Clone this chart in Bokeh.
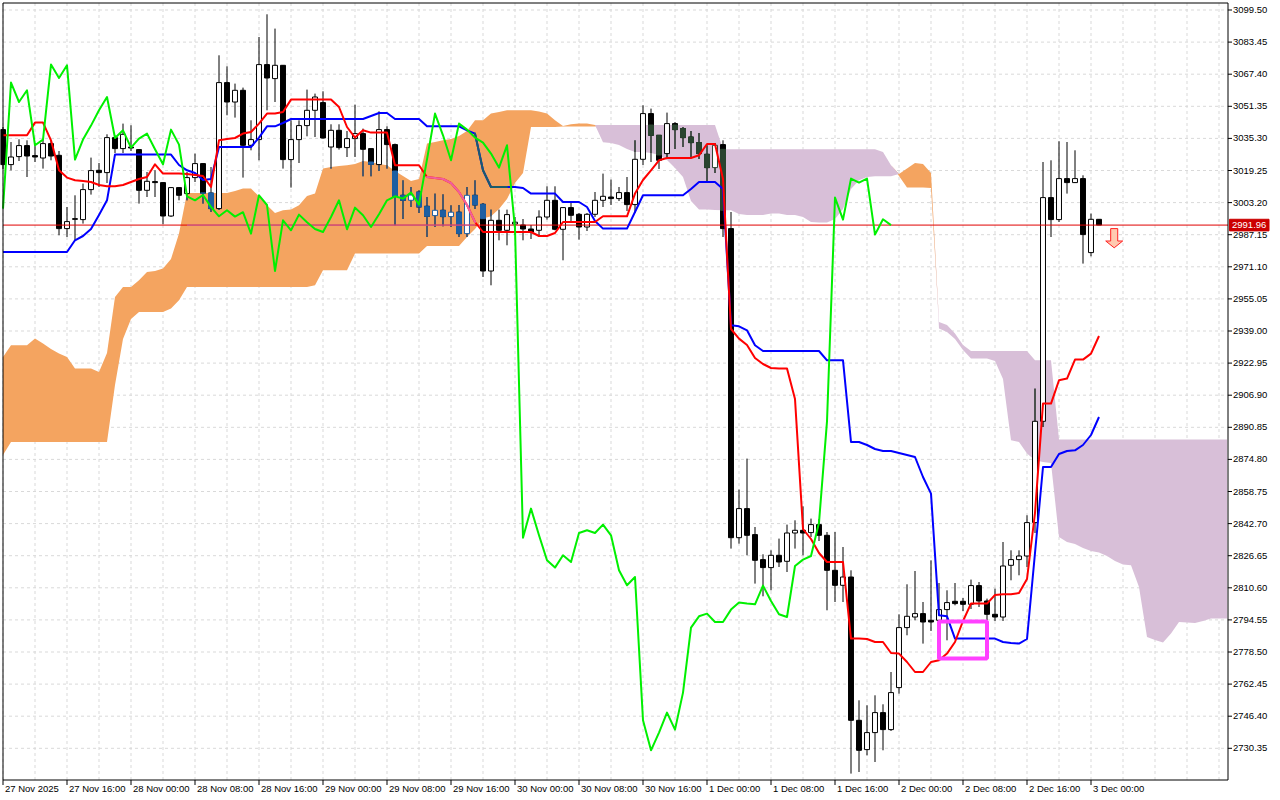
import numpy as np
from bokeh.plotting import figure
from bokeh.models import Range1d
from bokeh.embed import file_html
from bokeh.resources import INLINE
from bokeh.core.properties import value

FONT = "Liberation Sans"

# ---------------- data (H1 bars, bar 0 = 27 Nov 2025 08:00) ----------------
open_ = [3039.7, 3022.2, 3026.2, 3031.7, 3026.7, 3025.5, 3032.7, 3026.85, 2990.2, 2994.8,
         2994.7, 3009.7, 3019.35, 3018.2, 3035.7, 3030.2, 3031.0, 3029.7, 3009.35, 3013.7,
         3013.2, 2996.5, 3010.7, 3007.7, 3015.7, 3022.7, 3008.0, 3000.2, 3063.2, 3053.5,
         3059.35, 3031.85, 3034.7, 3072.2, 3065.2, 3071.85, 3024.7, 3034.7, 3041.7, 3049.35,
         3053.2, 3031.0, 3039.35, 3030.7, 3035.2, 3037.7, 3030.2, 3022.2, 3039.7, 3032.2,
         3006.85, 3004.35, 3008.5, 3001.35, 2996.7, 2999.35, 2996.2, 2998.4, 2987.7, 3006.85,
         3002.35, 2969.0, 2994.35, 2989.35, 2992.5, 2992.0, 2990.0, 2989.35, 2996.0, 3004.35,
         2989.85, 3000.7, 2997.35, 2991.0, 2997.35, 3004.35, 3006.0, 3005.2, 3008.2, 3002.2,
         3024.85, 3047.7, 3036.85, 3027.7, 3042.7, 3040.2, 3036.0, 3033.2, 3027.35, 3020.7,
         3032.2, 2990.2, 2835.65, 2850.2, 2837.2, 2824.7, 2820.7, 2826.85, 2823.85, 2838.0,
         2839.35, 2838.2, 2842.2, 2836.85, 2819.35, 2811.85, 2816.0, 2744.35, 2729.7, 2738.2,
         2748.2, 2739.7, 2760.7, 2790.7, 2796.0, 2797.7, 2794.35, 2794.35, 2799.7, 2803.85,
         2803.85, 2802.35, 2811.7, 2804.0, 2797.35, 2796.0, 2821.85, 2824.7, 2826.5, 2843.2,
         2893.85, 3005.7, 2994.7, 3015.2, 3013.2, 3015.2, 2978.2, 2994.85]
high = [3041.0, 3033.5, 3034.85, 3034.35, 3032.7, 3035.2, 3034.4, 3029.0, 3001.0, 3006.85,
        3012.7, 3025.7, 3023.0, 3037.35, 3036.85, 3042.7, 3041.85, 3030.0, 3018.5, 3019.35,
        3013.5, 3011.0, 3011.0, 3018.5, 3027.7, 3023.0, 3021.0, 3076.85, 3071.35, 3062.7,
        3060.7, 3044.35, 3086.0, 3097.35, 3090.2, 3072.0, 3044.35, 3044.35, 3059.7, 3057.7,
        3058.85, 3042.35, 3042.35, 3039.0, 3052.2, 3040.2, 3030.2, 3048.85, 3041.35, 3032.7,
        3014.35, 3011.0, 3009.35, 3006.0, 3007.7, 3007.35, 3001.85, 3002.0, 3011.0, 3014.35,
        3003.0, 2999.7, 2999.7, 2999.7, 2996.0, 2995.0, 2992.0, 2999.35, 3011.35, 3011.35,
        3001.0, 3003.5, 2998.0, 2998.0, 3008.5, 3017.7, 3014.7, 3011.0, 3016.0, 3034.35,
        3051.85, 3050.2, 3037.0, 3048.2, 3043.5, 3041.0, 3039.0, 3038.0, 3031.85, 3033.0,
        3034.35, 2998.5, 2859.7, 2875.2, 2841.0, 2827.35, 2829.35, 2835.2, 2842.2, 2844.35,
        2851.35, 2845.2, 2845.0, 2838.5, 2838.5, 2831.0, 2819.35, 2754.35, 2751.85, 2756.85,
        2752.35, 2768.5, 2797.35, 2812.35, 2819.0, 2803.5, 2824.35, 2813.0, 2809.35, 2813.0,
        2805.5, 2814.7, 2813.5, 2805.2, 2810.2, 2833.5, 2829.35, 2829.35, 2846.85, 2910.2,
        3023.5, 3024.35, 3033.85, 3033.5, 3029.35, 3016.85, 2997.7, 2995.0]
low = [3020.0, 3019.3, 3024.0, 3016.0, 3023.5, 3020.2, 3024.35, 2986.85, 2986.0, 2984.35,
       2992.7, 3007.2, 3011.0, 3013.0, 3028.0, 3028.0, 3029.0, 3002.7, 3006.0, 3006.0,
       2992.35, 2996.0, 3004.35, 3004.35, 3013.5, 3002.7, 2998.5, 2999.5, 3046.85, 3045.7,
       3015.7, 3029.35, 3024.35, 3049.35, 3053.5, 3020.2, 3010.7, 3023.0, 3036.35, 3036.0,
       3035.2, 3020.2, 3029.7, 3026.0, 3026.0, 3016.35, 3016.35, 3019.0, 3020.2, 2991.85,
       2995.0, 3001.0, 2998.0, 2986.0, 2991.0, 2991.35, 2991.0, 2986.0, 2986.0, 3000.0,
       2966.0, 2961.85, 2984.35, 2981.85, 2987.0, 2984.35, 2985.0, 2986.0, 2994.7, 2989.35,
       2974.35, 2994.0, 2984.7, 2989.0, 2996.0, 3001.0, 3002.0, 3004.0, 2999.0, 2998.0,
       3022.0, 3023.5, 3020.0, 3025.0, 3030.0, 3031.0, 3026.0, 3025.0, 3013.5, 3018.0,
       2986.0, 2830.2, 2832.7, 2826.85, 2812.7, 2806.35, 2809.35, 2821.0, 2818.5, 2830.2,
       2826.85, 2836.0, 2834.0, 2799.35, 2803.5, 2803.5, 2717.7, 2718.5, 2726.85, 2723.5,
       2729.35, 2739.0, 2757.7, 2786.85, 2794.35, 2782.7, 2789.0, 2788.0, 2784.35, 2801.85,
       2799.0, 2800.0, 2801.0, 2794.35, 2794.0, 2794.0, 2814.35, 2816.85, 2821.0, 2838.0,
       2891.0, 2986.0, 2993.5, 3007.7, 3013.0, 2972.7, 2976.35, 2991.96]
close = [3022.2, 3026.0, 3031.7, 3026.5, 3026.0, 3032.7, 3026.5, 2990.2, 2993.7, 2995.2,
         3009.7, 3019.2, 3018.2, 3035.7, 3030.2, 3037.35, 3030.5, 3009.35, 3013.85, 3013.2,
         2996.5, 3010.7, 3006.85, 3015.7, 3022.7, 3007.9, 3000.2, 3063.2, 3053.5, 3059.35,
         3031.85, 3034.7, 3072.2, 3065.5, 3071.85, 3024.7, 3034.7, 3041.7, 3049.35, 3056.0,
         3035.5, 3039.35, 3030.7, 3035.2, 3037.7, 3029.85, 3022.35, 3039.7, 3032.2, 3006.35,
         3004.35, 3007.0, 3001.0, 2996.35, 2999.35, 2996.2, 2998.4, 2987.7, 3006.85, 3002.0,
         2969.0, 2994.35, 2989.35, 2997.2, 2993.4, 2990.0, 2988.5, 2996.0, 3004.35, 2989.85,
         3000.7, 2996.85, 2991.0, 2997.35, 3004.35, 3006.35, 3005.2, 3008.2, 3002.2, 3024.85,
         3047.7, 3036.85, 3024.35, 3042.7, 3039.7, 3035.7, 3033.2, 3027.7, 3020.7, 3031.85,
         2990.2, 2835.65, 2850.2, 2836.85, 2824.35, 2820.7, 2826.85, 2823.5, 2838.0, 2839.35,
         2838.0, 2842.2, 2836.85, 2819.35, 2811.85, 2816.0, 2744.35, 2729.35, 2738.2, 2748.2,
         2739.7, 2758.2, 2790.7, 2796.35, 2797.7, 2793.5, 2793.5, 2799.7, 2803.2, 2802.7,
         2802.35, 2811.7, 2804.0, 2797.35, 2796.0, 2821.5, 2824.7, 2826.5, 2843.2, 2893.85,
         3005.7, 2994.7, 3015.2, 3013.2, 3015.2, 2987.2, 2994.85, 2991.96]

tenkan = [3036.85, 3036.85, 3036.85, 3036.85, 3043.2, 3043.2, 3034.35, 3019.35, 3015.7, 3014.35,
          3014.0, 3013.5, 3012.0, 3011.35, 3011.35, 3012.0, 3013.5, 3015.0, 3016.0, 3022.35,
          3017.7, 3017.7, 3017.7, 3017.5, 3017.0, 3016.5, 3011.0, 3034.35, 3035.0, 3035.5,
          3037.7, 3038.5, 3042.7, 3047.7, 3047.7, 3048.5, 3054.7, 3054.7, 3054.7, 3054.7,
          3054.7, 3054.7, 3051.0, 3041.0, 3035.7, 3039.35, 3038.2, 3038.2, 3038.2, 3021.85,
          3021.85, 3021.85, 3021.85, 3016.0, 3015.5, 3015.0, 3013.0, 3008.5, 3002.0, 2993.5,
          2988.5, 2988.5, 2988.5, 2988.5, 2988.5, 2988.5, 2988.5, 2986.5, 2986.5, 2988.0,
          2993.5, 2993.5, 2993.5, 2993.5, 2993.5, 2996.35, 2996.35, 2996.35, 2996.35, 3007.7,
          3014.5, 3019.35, 3024.35, 3025.5, 3025.5, 3025.5, 3025.5, 3026.85, 3032.5, 3032.5,
          3015.0, 2940.0, 2935.2, 2932.0, 2925.5, 2922.5, 2920.5, 2920.2, 2920.2, 2905.0,
          2840.0, 2835.0, 2828.0, 2823.5, 2823.5, 2823.5, 2785.2, 2785.2, 2785.0, 2783.5,
          2783.5, 2778.0, 2777.7, 2773.5, 2768.5, 2768.5, 2773.5, 2774.35, 2777.7, 2783.5,
          2794.0, 2802.7, 2802.7, 2802.7, 2807.0, 2807.35, 2807.35, 2808.0, 2815.0, 2848.0,
          2902.7, 2902.7, 2914.35, 2915.2, 2924.7, 2924.7, 2927.7, 2936.5]
kijun = [2978.5, 2978.5, 2978.5, 2978.5, 2978.5, 2978.5, 2978.5, 2978.5, 2978.5, 2984.35,
         2986.5, 2990.0, 2997.0, 3004.35, 3027.2, 3027.2, 3027.2, 3027.2, 3027.2, 3027.2,
         3027.2, 3027.2, 3022.0, 3019.35, 3018.0, 3014.5, 3015.0, 3031.0, 3031.0, 3031.0,
         3031.0, 3031.0, 3035.7, 3041.35, 3041.35, 3043.0, 3045.0, 3045.0, 3045.0, 3045.0,
         3045.0, 3045.0, 3045.0, 3045.0, 3045.0, 3045.0, 3046.5, 3048.0, 3048.0, 3045.0,
         3045.0, 3045.0, 3045.0, 3041.35, 3041.35, 3041.35, 3041.35, 3041.35, 3039.35, 3037.7,
         3019.35, 3011.0, 3011.0, 3011.0, 3011.0, 3010.5, 3007.7, 3007.7, 3007.7, 3007.7,
         3003.5, 3003.5, 3003.5, 3001.0, 2994.0, 2990.2, 2990.2, 2990.2, 2990.2, 2998.5,
         3006.85, 3006.85, 3006.85, 3006.85, 3006.85, 3006.85, 3010.0, 3013.5, 3013.5, 3013.5,
         3010.0, 2941.85, 2941.35, 2939.35, 2931.85, 2929.0, 2929.0, 2929.0, 2929.0, 2929.0,
         2929.0, 2929.0, 2929.0, 2924.35, 2924.35, 2924.35, 2883.5, 2883.5, 2882.0, 2880.0,
         2879.0, 2879.0, 2878.0, 2877.0, 2876.0, 2866.0, 2857.7, 2796.85, 2796.35, 2785.2,
         2785.2, 2785.2, 2785.2, 2785.2, 2785.2, 2783.5, 2783.0, 2782.7, 2785.0, 2828.0,
         2871.0, 2871.0, 2877.5, 2879.0, 2879.35, 2882.0, 2887.0, 2896.0]

# Senkou spans as drawn (already shifted 26 bars forward), bars 0..153
span_a = [2926.0, 2931.85, 2931.85, 2931.85, 2935.2, 2932.7, 2930.0, 2927.7, 2926.0, 2920.2,
          2920.2, 2920.2, 2918.5, 2928.0, 2956.0, 2961.0, 2961.0, 2964.35, 2968.5, 2969.0,
          2970.2, 2975.0, 2987.7, 3008.0, 3008.0, 3008.0, 3008.0, 3008.0, 3008.0, 3009.0,
          3010.2, 3010.2, 3006.35, 3001.85, 2998.0, 2999.35, 2999.7, 3001.85, 3006.5, 3007.7,
          3020.2, 3021.0, 3021.5, 3021.85, 3022.5, 3024.0, 3023.5, 3022.5, 3021.85, 3019.0,
          3016.5, 3014.0, 3015.0, 3032.7, 3033.5, 3034.35, 3035.0, 3036.5, 3039.0, 3044.35,
          3044.35, 3047.7, 3048.5, 3049.35, 3049.35, 3049.35, 3049.35, 3048.7, 3047.7, 3044.35,
          3041.5, 3042.35, 3042.7, 3042.7, 3042.0, 3033.4, 3033.0, 3032.0, 3030.0, 3028.5,
          3028.5, 3028.0, 3027.0, 3024.5, 3020.5, 3016.0, 3004.0, 2999.7, 2999.7, 2999.5,
          2999.35, 2999.35, 2997.5, 2997.0, 2997.0, 2997.0, 2997.7, 2997.7, 2997.0, 2997.0,
          2996.0, 2993.5, 2993.3, 2993.3, 2995.0, 3000.0, 3010.0, 3014.35, 3016.0, 3016.35,
          3016.35, 3016.35, 3017.5, 3020.2, 3023.0, 3022.5, 3018.0, 2940.2, 2938.5, 2935.0,
          2929.5, 2925.2, 2925.2, 2925.2, 2924.0, 2915.0, 2884.35, 2883.5, 2877.7, 2874.35,
          2873.5, 2873.0, 2836.0, 2833.5, 2832.5, 2830.5, 2829.0, 2828.2, 2826.5, 2824.0,
          2822.2, 2821.85, 2811.0, 2786.0, 2784.5, 2783.2, 2787.7, 2793.5, 2793.3, 2793.0,
          2794.0, 2795.2, 2795.2, 2795.2]
span_b = [2877.0, 2883.5, 2883.5, 2883.5, 2883.5, 2883.5, 2883.5, 2883.5, 2883.5, 2883.5,
          2883.5, 2883.5, 2883.5, 2883.5, 2912.0, 2935.0, 2945.0, 2948.5, 2948.5, 2948.5,
          2948.5, 2950.2, 2954.35, 2961.0, 2961.0, 2961.0, 2961.0, 2961.0, 2961.0, 2961.0,
          2961.0, 2961.0, 2961.0, 2961.0, 2961.0, 2961.0, 2961.0, 2961.0, 2961.0, 2961.85,
          2969.35, 2969.35, 2969.35, 2969.35, 2977.7, 2977.7, 2977.7, 2977.7, 2977.7, 2977.7,
          2977.7, 2977.7, 2977.7, 2981.5, 2981.5, 2981.5, 2981.5, 2981.5, 2986.0, 2990.0,
          2995.2, 2996.35, 3000.0, 3005.0, 3013.0, 3018.0, 3041.0, 3041.0, 3041.0, 3041.0,
          3041.3, 3041.3, 3041.3, 3041.3, 3041.3, 3042.0, 3042.0, 3042.0, 3042.0, 3042.0,
          3042.0, 3042.0, 3042.0, 3042.0, 3042.0, 3042.0, 3042.0, 3042.0, 3042.0, 3042.0,
          3029.85, 3029.85, 3029.85, 3029.85, 3029.85, 3029.85, 3029.85, 3029.85, 3029.85, 3029.85,
          3029.85, 3029.85, 3029.85, 3029.85, 3029.85, 3029.85, 3029.85, 3029.85, 3029.85, 3029.85,
          3028.5, 3021.85, 3016.5, 3010.7, 3010.7, 3010.7, 3010.5, 2943.5, 2942.0, 2937.7,
          2932.0, 2929.0, 2929.0, 2929.0, 2929.0, 2929.0, 2929.0, 2929.0, 2929.0, 2924.35,
          2924.35, 2924.35, 2884.7, 2884.7, 2884.7, 2884.7, 2884.7, 2884.7, 2884.7, 2884.7,
          2884.7, 2884.7, 2884.7, 2884.7, 2884.7, 2884.7, 2884.7, 2884.7, 2884.7, 2884.7,
          2884.7, 2884.7, 2884.7, 2884.7]

chikou_shift = 26
x_tick_bars = [0, 8, 16, 24, 32, 40, 48, 56, 64, 72, 80, 88, 96, 104, 112, 120, 128, 136]
x_tick_labels = ["27 Nov 2025", "27 Nov 16:00", "28 Nov 00:00", "28 Nov 08:00", "28 Nov 16:00",
                 "29 Nov 00:00", "29 Nov 08:00", "29 Nov 16:00", "30 Nov 00:00", "30 Nov 08:00",
                 "30 Nov 16:00", "1 Dec 00:00", "1 Dec 08:00", "1 Dec 16:00", "2 Dec 00:00",
                 "2 Dec 08:00", "2 Dec 16:00", "3 Dec 00:00"]
y_tick_values = [3099.50, 3083.45, 3067.40, 3051.35, 3035.30, 3019.25, 3003.20, 2987.15,
                 2971.10, 2955.05, 2939.00, 2922.95, 2906.90, 2890.85, 2874.80, 2858.75,
                 2842.70, 2826.65, 2810.60, 2794.55, 2778.50, 2762.45, 2746.40, 2730.35]
y_tick_labels = ["3099.50", "3083.45", "3067.40", "3051.35", "3035.30", "3019.25", "3003.20",
                 "2987.15", "2971.10", "2955.05", "2939.00", "2922.95", "2906.90", "2890.85",
                 "2874.80", "2858.75", "2842.70", "2826.65", "2810.60", "2794.55", "2778.50",
                 "2762.45", "2746.40", "2730.35"]
grid_bars = list(range(0, 156, 4))
last_price = 2991.96
box_bars = [117, 123]
box_prices = [2775.2, 2793.7]
arrow_bar = 138.9
arrow_price = 2990.2

# ---------------- pixel layout helpers (MT5-like chart window) ----------------
W, H = 1280, 800
PX_PER_BAR = 8.0
BAR0_PX = 2.5          # screen x of bar 0
PX_PER_PRICE = 2.0
REF_PRICE, REF_PY = 3099.5, 9.5   # screen y of price 3099.50


def bx(px):            # screen x -> bar coordinate
    return (px - BAR0_PX) / PX_PER_BAR


def pr(py):            # screen y -> price coordinate
    return REF_PRICE - (py - REF_PY) / PX_PER_PRICE


L_PX, R_PX, T_PX, B_PX = 2.5, 1227.5, 2.5, 779.5   # chart area border

p = figure(width=W, height=H, x_range=Range1d(bx(0), bx(W)), y_range=Range1d(pr(H), pr(0)),
           x_axis_type=None, y_axis_type=None, toolbar_location=None, output_backend="svg",
           min_border=0, background_fill_color="white", border_fill_color="white")
p.outline_line_color = None
p.grid.visible = False

# ---------------- grid ----------------
GRID = "#d9d9d9"
p.segment(x0=grid_bars, y0=[pr(T_PX)] * len(grid_bars), x1=grid_bars, y1=[pr(B_PX)] * len(grid_bars),
          line_color=GRID, line_width=1, line_dash="3 3")
p.segment(x0=[bx(L_PX)] * len(y_tick_values), y0=y_tick_values,
          x1=[bx(R_PX)] * len(y_tick_values), y1=y_tick_values,
          line_color=GRID, line_width=1, line_dash="3 3")

# ---------------- cloud ----------------
A = np.array(span_a)
B = np.array(span_b)
xc = np.arange(len(A))
top = np.maximum(A, B)
ORANGE = "#f4a460"
THISTLE = "#d8bfd8"
p.varea(x=xc, y1=B, y2=top, fill_color=ORANGE)
p.varea(x=xc, y1=A, y2=top, fill_color=THISTLE)

# ---------------- candles ----------------
o = np.array(open_); h = np.array(high); l = np.array(low); c = np.array(close)
n = len(c)
x = np.arange(n)
An, Bn = A[:n], B[:n]
cl_lo = np.minimum(An, Bn)
cl_hi = np.maximum(An, Bn)
cl_col = np.where(An >= Bn, "#1e5fa2", "#2a4430")

p.segment(x0=x, y0=l, x1=x, y1=h, line_color="black", line_width=1)
wlo = np.maximum(l, cl_lo); whi = np.minimum(h, cl_hi)
m = whi > wlo
p.segment(x0=x[m], y0=wlo[m], x1=x[m], y1=whi[m], line_color=list(cl_col[m]), line_width=1)

bull = c >= o
BW = 0.62
body_top = np.maximum(o, c)
body_bot = np.minimum(o, c)
inside = (body_bot >= cl_lo) & (body_top <= cl_hi)
bull_line = np.where(inside, cl_col, "black")
p.vbar(x=x[bull], width=BW, top=body_top[bull], bottom=body_bot[bull],
       fill_color="white", line_color=list(bull_line[bull]), line_width=1)
p.vbar(x=x[~bull], width=BW, top=body_top[~bull], bottom=body_bot[~bull],
       fill_color="black", line_color="black", line_width=1)
blo = np.maximum(c, cl_lo); bhi = np.minimum(o, cl_hi)
mb = (~bull) & (bhi > blo)
p.vbar(x=x[mb], width=BW, top=bhi[mb], bottom=blo[mb],
       fill_color=list(cl_col[mb]), line_color=list(cl_col[mb]), line_width=1)

# ---------------- price line ----------------
p.segment(x0=[bx(L_PX)], y0=[last_price], x1=[bx(R_PX)], y1=[last_price],
          line_color="#e00000", line_width=1)
pl_in = [(i, i + 1) for i in range(len(A) - 1)
         if A[i] > B[i] and A[i + 1] > B[i + 1]
         and B[i] <= last_price <= A[i] and B[i + 1] <= last_price <= A[i + 1]]
if pl_in:
    p.segment(x0=[a for a, b in pl_in], y0=[last_price] * len(pl_in),
              x1=[b for a, b in pl_in], y1=[last_price] * len(pl_in),
              line_color="#c466b0", line_width=1)


# ---------------- ichimoku lines ----------------
def line_with_cloud_tint(ys, color, tint, width=2):
    ys = np.asarray(ys)
    xs = np.arange(len(ys))
    p.line(xs, ys, line_color=color, line_width=width, line_join="round")
    x0s, y0s, x1s, y1s = [], [], [], []
    for i in range(len(ys) - 1):
        if A[i] > B[i] and A[i + 1] > B[i + 1]:
            if B[i] <= ys[i] <= A[i] and B[i + 1] <= ys[i + 1] <= A[i + 1]:
                x0s.append(i); y0s.append(ys[i]); x1s.append(i + 1); y1s.append(ys[i + 1])
    if x0s:
        p.segment(x0=x0s, y0=y0s, x1=x1s, y1=y1s, line_color=tint, line_width=width,
                  line_cap="round")


line_with_cloud_tint(kijun, "#0000ff", "#1b5b6b")
line_with_cloud_tint(tenkan, "#ff0000", "#f0609c")
cx = np.arange(chikou_shift, n) - chikou_shift
p.line(cx, c[chikou_shift:], line_color="#00f000", line_width=2, line_join="round")

# ---------------- annotations ----------------
p.quad(left=[box_bars[0]], right=[box_bars[1]], bottom=[box_prices[0]], top=[box_prices[1]],
       fill_color=None, line_color="#ff40ff", line_width=4)

ax, ay = arrow_bar, arrow_price
p.patch(x=[ax - 0.44, ax + 0.44, ax + 0.44, ax + 1.06, ax, ax - 1.06, ax - 0.44],
        y=[ay, ay, ay - 6.2, ay - 6.2, ay - 9.6, ay - 6.2, ay - 6.2],
        fill_color="#ffcab0", line_color="#ff2020", line_width=1)

# ---------------- chart border and axes ----------------
p.quad(left=[bx(L_PX)], right=[bx(R_PX)], top=[pr(T_PX)], bottom=[pr(B_PX)],
       fill_color=None, line_color="black", line_width=1)

# price axis (right)
ny = len(y_tick_values)
p.segment(x0=[bx(R_PX)] * ny, y0=y_tick_values, x1=[bx(R_PX + 4)] * ny, y1=y_tick_values,
          line_color="black", line_width=1)
p.text(x=[bx(R_PX + 5)] * ny, y=y_tick_values, text=y_tick_labels,
       text_font=value(FONT), text_font_size=value("9.5px"), text_color="black",
       text_align="left", text_baseline="middle")

# last price tag
p.quad(left=[bx(R_PX + 1.5)], right=[bx(R_PX + 41)], top=[last_price + 2.9],
       bottom=[last_price - 2.9], fill_color="#cc0000", line_color="#cc0000")
p.text(x=[bx(R_PX + 4)], y=[last_price], text=[f"{last_price:.2f}"],
       text_font=value(FONT), text_font_size=value("9.5px"), text_color="white",
       text_align="left", text_baseline="middle")

# time axis (bottom)
nx = len(x_tick_bars)
p.segment(x0=x_tick_bars, y0=[pr(B_PX)] * nx, x1=x_tick_bars, y1=[pr(B_PX + 5)] * nx,
          line_color="black", line_width=1)
p.text(x=[b + bx(BAR0_PX + 2) for b in x_tick_bars], y=[pr(B_PX + 2.5)] * nx, text=x_tick_labels,
       text_font=value(FONT), text_font_size=value("9.5px"), text_color="black",
       text_align="left", text_baseline="top")

open("out.html", "w").write(file_html(p, INLINE))
